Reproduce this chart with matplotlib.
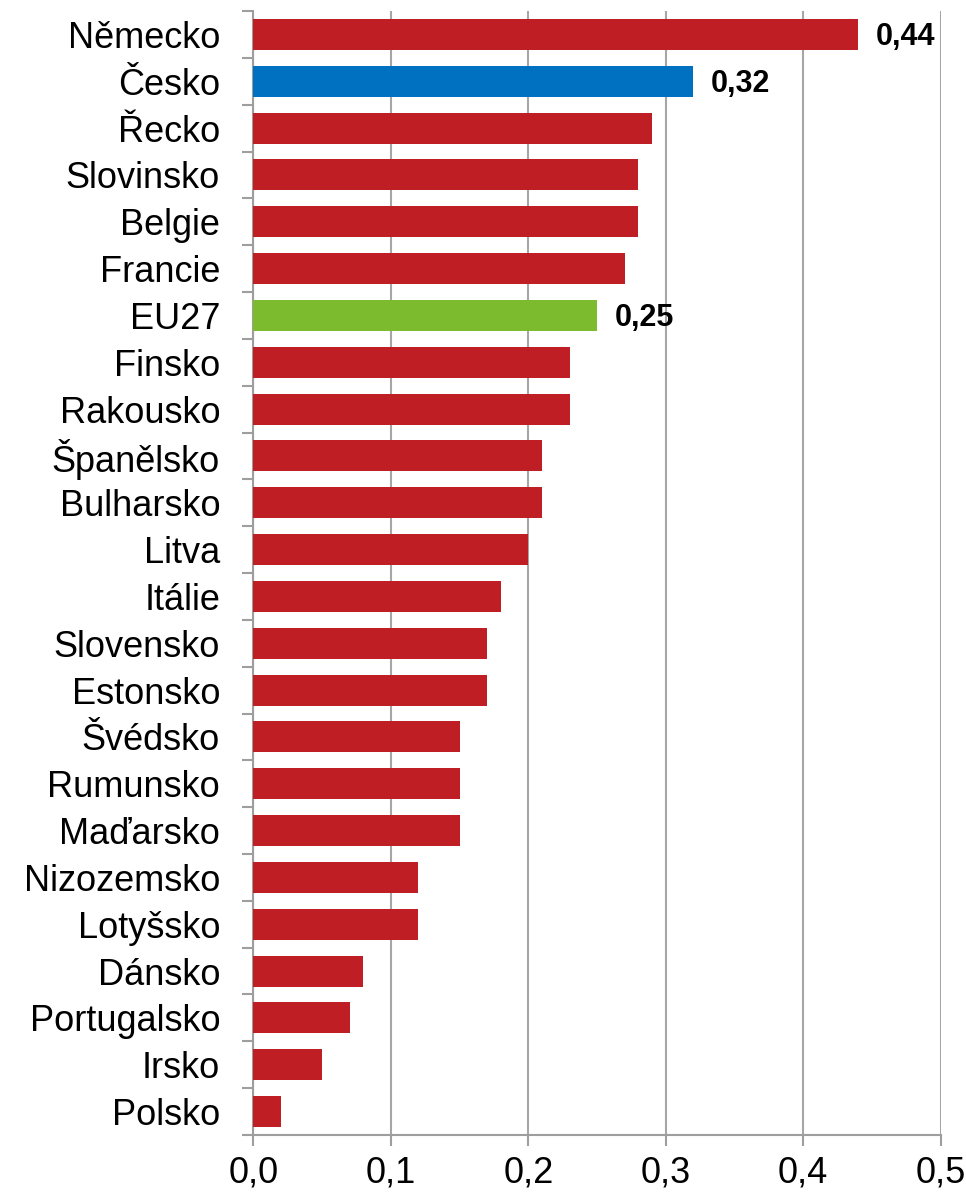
import matplotlib
matplotlib.use('Agg')
import matplotlib.pyplot as plt
import numpy as np

plt.rcParams['font.family'] = ['Liberation Sans', 'DejaVu Sans']

countries = ['Německo', 'Česko', 'Řecko', 'Slovinsko', 'Belgie', 'Francie', 'EU27',
             'Finsko', 'Rakousko', 'Španělsko', 'Bulharsko', 'Litva', 'Itálie',
             'Slovensko', 'Estonsko', 'Švédsko', 'Rumunsko', 'Maďarsko',
             'Nizozemsko', 'Lotyšsko', 'Dánsko', 'Portugalsko', 'Irsko', 'Polsko']
values = [0.44, 0.32, 0.29, 0.28, 0.28, 0.27, 0.25,
          0.23, 0.23, 0.21, 0.21, 0.20, 0.18,
          0.17, 0.17, 0.15, 0.15, 0.15,
          0.12, 0.12, 0.08, 0.07, 0.05, 0.02]
labelled = ['Německo', 'Česko', 'EU27']

red, blue, green = '#BE1E24', '#0070C0', '#7CBB2E'
colors = [blue if c == 'Česko' else green if c == 'EU27' else red for c in countries]

fig = plt.figure(figsize=(9.66, 11.97), dpi=100)
ax = fig.add_axes([0.2624, 0.0518, 0.7113, 0.939])

n = len(countries)
y = np.arange(n)
ax.barh(y, values, height=0.66, color=colors, zorder=3)

ax.set_ylim(n - 0.5, -0.5)
ax.set_xlim(0, 0.5)

# excel style: y ticks sit between categories
ax.set_yticks(y)
ax.set_yticklabels(countries, fontsize=26)
ax.set_yticks(np.arange(-0.5, n, 1), minor=True)
ax.tick_params(axis='y', which='major', length=0, pad=24)
ax.tick_params(axis='y', which='minor', length=8, width=1.5, color='#9E9E9E', direction='out')

ticks = np.arange(0, 0.51, 0.1)
ax.set_xticks(ticks)
ax.set_xticklabels([f'{t:.1f}'.replace('.', ',') for t in ticks], fontsize=26)
ax.tick_params(axis='x', length=8, width=1.5, color='#9E9E9E', pad=7)

ax.grid(axis='x', color='#A6A6A6', linewidth=1.5, zorder=0)
for s in ['top', 'right']:
    ax.spines[s].set_visible(False)
for s in ['left', 'bottom']:
    ax.spines[s].set_color('#9E9E9E')
    ax.spines[s].set_linewidth(1.5)

for i, (c, v) in enumerate(zip(countries, values)):
    if c in labelled:
        ax.text(v + 0.013, i + 0.05, f'{v:.2f}'.replace('.', ','), va='center', ha='left',
                fontsize=22, fontweight='bold')

fig.savefig('out.png', dpi=100)
